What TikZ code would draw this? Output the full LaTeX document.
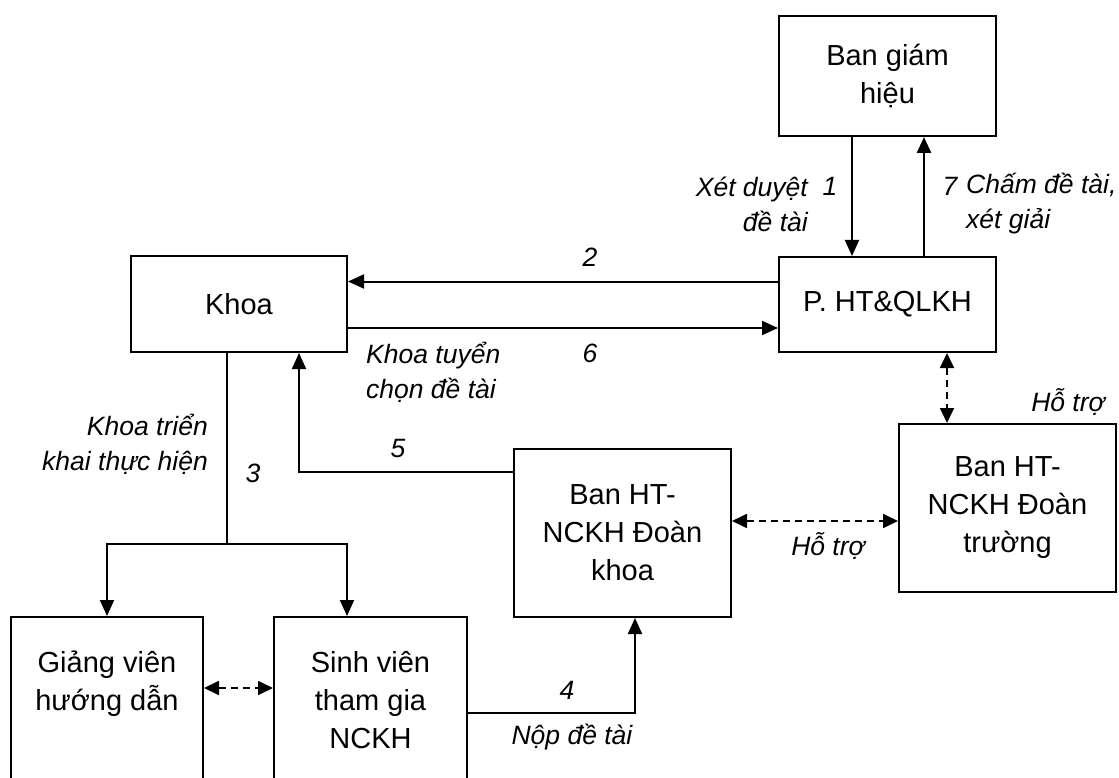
\documentclass[tikz,border=0pt]{standalone}
\usepackage{fontspec}
\setmainfont{Liberation Sans}
\usetikzlibrary{arrows.meta}
\tikzset{
  box/.style={draw, line width=2pt, rectangle, inner sep=0pt, align=center,
    font=\fontsize{29}{38}\selectfont},
  lab/.style={inner sep=0pt, font=\fontsize{26.5}{35}\selectfont\itshape},
  conn/.style={line width=2pt},
  arr/.style={conn, -{Triangle[length=16pt,width=14pt]}},
  darr/.style={line width=1.8pt, dash pattern=on 7pt off 5pt,
    {Triangle[length=15pt,width=14pt]}-{Triangle[length=15pt,width=14pt]}}
}
\begin{document}
\begin{tikzpicture}[x=1pt,y=-1pt]
\useasboundingbox (0,0) rectangle (1119,778);
% boxes
\node[box, minimum width=217pt, minimum height=120pt] (bgh) at (887.5,76) {Ban giám\\hiệu};
\node[box, minimum width=217pt, minimum height=95pt] (pht) at (887.5,304.5) {P. HT\&QLKH};
\node[box, minimum width=216pt, minimum height=96pt] (khoa) at (239,304) {Khoa};
\node[box, minimum width=217pt, minimum height=168pt] (bk) at (622.5,533) {Ban HT-\\NCKH Đoàn\\khoa};
\node[box, minimum width=217pt, minimum height=168pt] (bt) at (1007.5,508) {Ban HT-\\NCKH Đoàn\\trường};
\node[box, minimum width=192pt, minimum height=166pt] (gv) at (107,700) {Giảng viên\\hướng dẫn\\\mbox{}};
\node[box, minimum width=193pt, minimum height=166pt] (sv) at (370.5,700) {Sinh viên\\tham gia\\NCKH};
\coordinate (j) at (227,544);
% connectors
\draw[arr] ([xshift=-35.5pt]bgh.south) -- ([xshift=-35.5pt]pht.north);
\draw[arr, line width=2.6pt] ([xshift=36.5pt]pht.north) -- ([xshift=36.5pt]bgh.south);
\draw[arr] ([yshift=23pt]pht.west) -- ([yshift=23pt]pht.west -| khoa.east);
\draw[arr] ([yshift=-24pt]khoa.east) -- ([yshift=-24pt]khoa.east -| pht.west);
\draw[conn] ([xshift=-12pt]khoa.south) -- (j);
\draw[arr] (j) -| (gv.north);
\draw[arr] (j) -| ([xshift=-23.5pt]sv.north);
\draw[arr] ([yshift=61pt]bk.west) -| ([xshift=60pt]khoa.south);
\draw[arr] ([yshift=-13pt]sv.east) -| ([xshift=12.5pt]bk.south);
\draw[darr] ([yshift=12pt]gv.east) -- ([yshift=12pt]gv.east -| sv.west);
\draw[darr] ([yshift=12pt]bk.east) -- ([yshift=12pt]bk.east -| bt.west);
\draw[darr] ([xshift=59.5pt]pht.south) -- ([xshift=59.5pt]pht.south |- bt.north);
% labels
\node[lab] (l2) at (590,257) {2};
\node[lab] (l6) at (590,353) {6};
\node[lab, align=left, anchor=west] (lkt) at (366,372) {Khoa tuyển\\chọn đề tài};
\node[lab, align=right, anchor=east] (lxd) at (808,204) {Xét duyệt\\đề tài};
\node[lab] (l1) at (830,186) {1};
\node[lab] (l7) at (950,186) {7};
\node[lab, align=left, anchor=west] (lcd) at (966,204) {Chấm đề tài,\\xét giải};
\node[lab] (lh1) at (1068,402) {Hỗ trợ};
\node[lab] (lh2) at (828,546) {Hỗ trợ};
\node[lab, align=right, anchor=east] (ltk) at (208,444) {Khoa triển\\khai thực hiện};
\node[lab] (l3) at (253,473) {3};
\node[lab] (l5) at (398,449) {5};
\node[lab] (l4) at (567,690) {4};
\node[lab] (lnop) at (572,737) {Nộp đề tài};
\end{tikzpicture}
\end{document}
